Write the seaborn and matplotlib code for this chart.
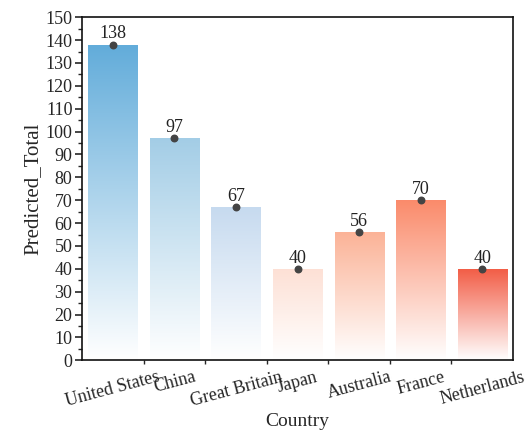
import matplotlib
matplotlib.use('Agg')
import matplotlib.pyplot as plt
import matplotlib.colors as mcolors
from matplotlib.ticker import MultipleLocator, FixedLocator
import numpy as np
import pandas as pd
import seaborn as sns

# Data
countries = ['United States', 'China', 'Great Britain', 'Japan', 'Australia', 'France', 'Netherlands']
predicted_total = [138, 97, 67, 40, 56, 70, 40]
bar_colors = ['#62acda', '#a3cde6', '#c6daef', '#fde0d5', '#fbb296', '#fa8a6a', '#f25c45']

df = pd.DataFrame({'Country': countries, 'Predicted_Total': predicted_total})

sns.set_style('ticks')
plt.rcParams['font.family'] = ['Liberation Serif', 'DejaVu Serif']

fig, ax = plt.subplots(figsize=(5.3, 4.3), dpi=100)
fig.subplots_adjust(left=0.155, right=0.968, top=0.96, bottom=0.162)

sns.barplot(data=df, x='Country', y='Predicted_Total', hue='Country',
            palette=bar_colors, width=0.8, legend=False, ax=ax, zorder=2)

# Replace flat fills with a vertical gradient (colour at top -> white at bottom)
for patch, col in zip(ax.patches, bar_colors):
    x0, y0 = patch.get_x(), patch.get_y()
    w, h = patch.get_width(), patch.get_height()
    cmap = mcolors.LinearSegmentedColormap.from_list('g', ['#ffffff', col])
    grad = np.linspace(0, 1, 256).reshape(-1, 1)
    im = ax.imshow(grad, cmap=cmap, aspect='auto', origin='lower',
                   extent=[x0, x0 + w, y0, y0 + h], zorder=2)
    im.set_clip_path(patch)
    patch.set_facecolor('none')
    patch.set_edgecolor('none')

# Dots and value labels
ax.scatter(range(len(countries)), predicted_total, s=22, color='#444444', zorder=4)
for i, v in enumerate(predicted_total):
    ax.text(i, v + 1.0, str(v), ha='center', va='bottom', fontsize=13, color='#222222', zorder=5)

ax.set_xlim(-0.5, len(countries) - 0.5)
ax.set_ylim(0, 150)
ax.yaxis.set_major_locator(MultipleLocator(10))
ax.yaxis.set_minor_locator(MultipleLocator(5))
ax.xaxis.set_minor_locator(FixedLocator(np.arange(0.5, len(countries) - 1, 1)))

ax.tick_params(axis='y', which='major', direction='out', length=5, width=1.2, labelsize=13, pad=2)
ax.tick_params(axis='y', which='minor', direction='out', length=3, width=1.0)
ax.tick_params(axis='x', which='major', direction='in', length=5, width=1.2, labelsize=13, pad=6)
ax.tick_params(axis='x', which='minor', direction='out', length=3, width=1.0)
plt.setp(ax.get_xticklabels(), rotation=15, ha='center')

for side in ['left', 'right', 'top', 'bottom']:
    ax.spines[side].set_visible(True)
    ax.spines[side].set_linewidth(1.2)
    ax.spines[side].set_color('#111111')

ax.set_xlabel('Country', fontsize=14, labelpad=2)
ax.set_ylabel('Predicted_Total', fontsize=15, labelpad=2)

fig.savefig('out.png', dpi=100)
